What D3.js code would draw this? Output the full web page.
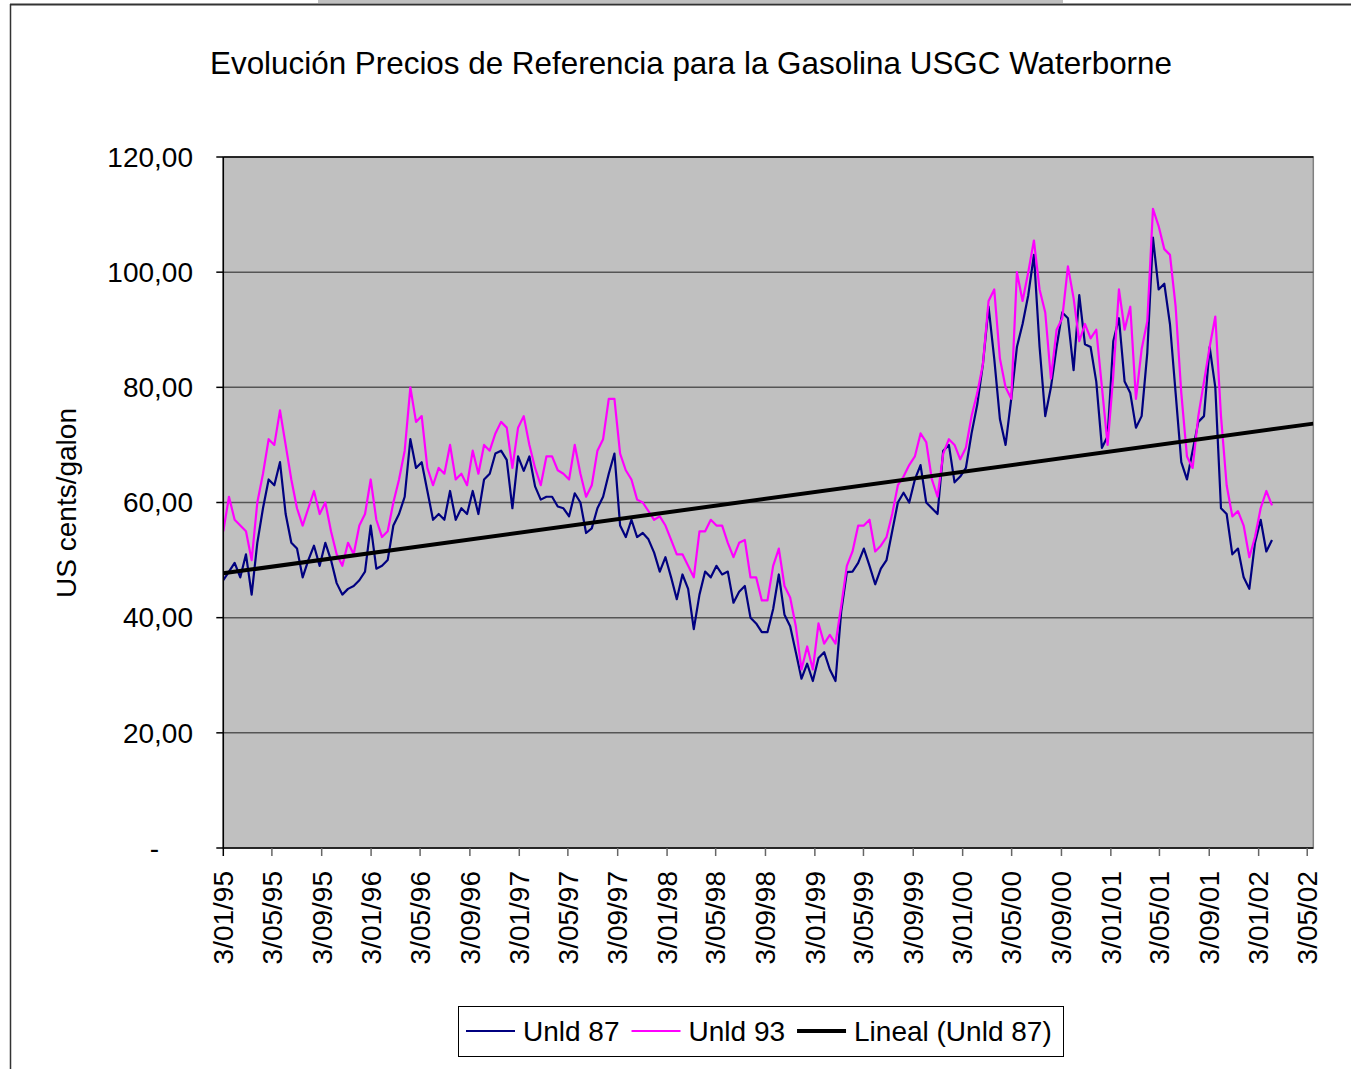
<!DOCTYPE html>
<html>
<head>
<meta charset="utf-8">
<script src="https://cdn.jsdelivr.net/npm/d3@7/dist/d3.min.js"></script>
<style>
  body { margin: 0; background: #fff; }
  text { font-family: "Liberation Sans", Arial, sans-serif; fill: #000; }
</style>
</head>
<body>
<svg id="chart" width="1351" height="1069"></svg>
<script>
// precios cada 14 dias desde 3/01/95 (US cents/galon)
var startDate = new Date(1995, 0, 3);
var stepDays = 14;

var unld87 = [
  46.5, 48, 49.5, 47, 51, 44, 53, 59, 64, 63,
  67, 58, 53, 52, 47, 50, 52.5, 49, 53, 50,
  46, 44, 45, 45.5, 46.5, 48, 56, 48.5, 49, 50,
  56, 58, 61, 71, 66, 67, 62, 57, 58, 57,
  62, 57, 59, 58, 62, 58, 64, 65, 68.5, 69,
  67.4, 59, 68, 65.5, 68, 62.8, 60.5, 61, 61, 59.3,
  59, 57.6, 61.6, 60, 54.7, 55.5, 59, 61, 65, 68.5,
  56, 54, 57, 54, 54.7, 53.6, 51.3, 48, 50.5, 47,
  43.2, 47.5, 45, 38, 44, 48, 47, 49, 47.5, 48,
  42.6, 44.5, 45.5, 40, 39, 37.5, 37.5, 41.5, 47.5, 40.5,
  38.5, 34, 29.4, 32, 29, 33, 34, 31, 29, 41,
  47.9, 48, 49.5, 52, 49, 45.8, 48.5, 50, 55, 60,
  61.7, 60, 64, 66.5, 60, 59, 58, 69, 70, 63.5,
  64.5, 66, 72, 77, 84, 94, 85, 74.5, 70, 78,
  87, 91, 96, 103, 87, 75, 80, 87, 93, 92,
  83, 96, 87.5, 87, 81, 69.5, 71.5, 88, 92, 81,
  79, 73, 75, 86, 106, 97, 98, 91, 79, 67,
  64, 69, 74, 75, 87, 80, 59, 58, 51, 52,
  47, 45, 53, 57, 51.5, 53.5
];

var unld93 = [
  55, 61, 57, 56, 55, 50, 60, 65, 71, 70,
  76, 70, 64, 59, 56, 59, 62, 58, 60, 55,
  51, 49, 53, 51, 56, 58, 64, 57, 54, 55,
  60, 64, 69, 80, 74, 75, 66, 63, 66, 65,
  70, 64, 65, 63, 69, 65, 70, 69, 72, 74,
  73, 66, 73, 75, 70, 66, 63, 68, 68, 65.6,
  65, 64, 70, 65, 61, 63, 69, 71, 78, 78,
  68.5, 65.6, 64, 60.5, 60, 58.5, 57, 57.6, 56, 53.5,
  51, 51, 49, 47, 55, 55, 57, 56, 56, 53,
  50.5, 53, 53.5, 47, 47, 43, 43, 49, 52, 45.5,
  43.5, 38.5, 31, 35, 31, 39, 35.5, 37, 35.5, 42,
  49, 51.5, 56, 56, 57, 51.5, 52.5, 54, 58, 63,
  64.5, 66.5, 68, 72, 70.5, 64, 61, 68.5, 71, 70,
  67.5, 69.5, 75, 79, 84, 95, 97, 85, 80, 78,
  100, 95, 100, 105.5, 97, 93, 81.5, 90, 92, 101,
  95.5, 88, 91, 88.5, 90, 80, 70, 82, 97, 90,
  94, 78, 86.6, 91.5, 111, 108, 104, 103, 94, 79,
  68, 66, 75, 81, 87, 92.3, 75, 63, 57.6, 58.5,
  56, 50.5, 54, 59, 62, 59.5
];

// tendencia lineal (Unld 87), extremos
var trendDates = [new Date(1995, 0, 3), new Date(2002, 4, 18)];
var trendValues = [47.7, 73.7];

var yTicks = [0, 20, 40, 60, 80, 100, 120];
var tickMonths = [0, 4, 8];
var tickYears = [1995, 1996, 1997, 1998, 1999, 2000, 2001, 2002];

var titulo = "Evolución Precios de Referencia para la Gasolina USGC Waterborne";
var yTitulo = "US cents/galon";
var legendNames = ["Unld 87", "Unld 93", "Lineal (Unld 87)"];
var colors = ["#000080", "#ff00ff", "#000000"];

var plot = {left: 223.3, right: 1313.3, top: 157, bottom: 848};

var svg = d3.select("#chart");

// marco exterior
svg.append("rect").attr("x", 318).attr("y", 0).attr("width", 745).attr("height", 3).attr("fill", "#c0c0c0");
svg.append("line").attr("x1", 10).attr("x2", 1351).attr("y1", 4.5).attr("y2", 4.5)
  .attr("stroke", "#333").attr("stroke-width", 2);
svg.append("line").attr("x1", 10.5).attr("x2", 10.5).attr("y1", 4).attr("y2", 1069)
  .attr("stroke", "#333").attr("stroke-width", 1.5);

var x = d3.scaleTime()
  .domain([startDate, trendDates[1]])
  .range([plot.left, plot.right]);
var y = d3.scaleLinear().domain([0, 120]).range([plot.bottom, plot.top]);

var esLocale = d3.formatLocale({decimal: ",", thousands: ".", grouping: [3], currency: ["", ""]});
var fmt = esLocale.format(".2f");

var tickDates = [];
tickYears.forEach(function(yr) {
  tickMonths.forEach(function(m) {
    var d = new Date(yr, m, 3);
    if (d <= new Date(2002, 4, 3)) tickDates.push(d);
  });
});

function toSeries(vals) {
  return vals.map(function(v, i) { return {date: d3.timeDay.offset(startDate, i * stepDays), v: v}; });
}
var s87 = toSeries(unld87), s93 = toSeries(unld93);
var sTrend = trendDates.map(function(d, i) { return {date: d, v: trendValues[i]}; });

// area del grafico
svg.append("rect")
  .attr("x", plot.left).attr("y", plot.top)
  .attr("width", plot.right - plot.left).attr("height", plot.bottom - plot.top)
  .attr("fill", "#c0c0c0").attr("stroke", "#808080").attr("stroke-width", 1.5);

svg.append("clipPath").attr("id", "clip").append("rect")
  .attr("x", plot.left).attr("y", plot.top)
  .attr("width", plot.right - plot.left).attr("height", plot.bottom - plot.top);

svg.append("g").selectAll("line").data(yTicks.filter(function(t) { return t > 0; }))
  .enter().append("line")
  .attr("x1", plot.left).attr("x2", plot.right)
  .attr("y1", function(d) { return y(d); }).attr("y2", function(d) { return y(d); })
  .attr("stroke", function(d) { return d === 120 ? "#000" : "#555"; })
  .attr("stroke-width", 1.5);

var line = d3.line()
  .x(function(d) { return x(d.date); })
  .y(function(d) { return y(d.v); });

var g = svg.append("g").attr("clip-path", "url(#clip)");
g.append("path").datum(s87).attr("d", line)
  .attr("fill", "none").attr("stroke", colors[0]).attr("stroke-width", 2.2).attr("stroke-linejoin", "round");
g.append("path").datum(s93).attr("d", line)
  .attr("fill", "none").attr("stroke", colors[1]).attr("stroke-width", 2.2).attr("stroke-linejoin", "round");
g.append("path").datum(sTrend).attr("d", line)
  .attr("fill", "none").attr("stroke", colors[2]).attr("stroke-width", 4);

// ejes
var yAxis = svg.append("g");
yAxis.append("line").attr("x1", plot.left).attr("x2", plot.left)
  .attr("y1", plot.top).attr("y2", plot.bottom).attr("stroke", "#000").attr("stroke-width", 1.5);
yAxis.selectAll(".tk").data(yTicks).enter().append("line")
  .attr("x1", plot.left - 7).attr("x2", plot.left)
  .attr("y1", function(d) { return y(d); }).attr("y2", function(d) { return y(d); })
  .attr("stroke", "#000").attr("stroke-width", 1.5);
yAxis.selectAll("text").data(yTicks).enter().append("text")
  .attr("x", function(d) { return d === 0 ? 159 : 193; })
  .attr("y", function(d) { return y(d); })
  .attr("dy", "0.35em")
  .attr("text-anchor", "end")
  .attr("font-size", 28)
  .text(function(d) { return d === 0 ? "-" : fmt(d); });

var xAxis = svg.append("g");
xAxis.append("line").attr("x1", plot.left).attr("x2", plot.right)
  .attr("y1", plot.bottom).attr("y2", plot.bottom).attr("stroke", "#000").attr("stroke-width", 1.5);
xAxis.selectAll(".tk").data(tickDates).enter().append("line")
  .attr("x1", function(d) { return x(d); }).attr("x2", function(d) { return x(d); })
  .attr("y1", plot.bottom).attr("y2", plot.bottom + 8)
  .attr("stroke", function(d, i) { return i === 0 ? "#000" : "#666"; }).attr("stroke-width", 1.5);
var fmtDate = d3.timeFormat("%-d/%m/%y");
xAxis.selectAll("text").data(tickDates).enter().append("text")
  .attr("transform", function(d) { return "translate(" + x(d) + "," + (plot.bottom + 23) + ")rotate(-90)"; })
  .attr("dy", "0.35em")
  .attr("text-anchor", "end")
  .attr("font-size", 28)
  .text(function(d) { return fmtDate(d); });

// titulos
svg.append("text").attr("x", 691).attr("y", 74).attr("text-anchor", "middle")
  .attr("font-size", 31.4).text(titulo);
svg.append("text").attr("transform", "translate(76,503)rotate(-90)")
  .attr("text-anchor", "middle").attr("font-size", 28).text(yTitulo);

// leyenda
var leg = svg.append("g");
leg.append("rect").attr("x", 458.5).attr("y", 1006.5).attr("width", 605).attr("height", 50)
  .attr("fill", "#fff").attr("stroke", "#000").attr("stroke-width", 1);
var lx = 466;
legendNames.forEach(function(name, i) {
  leg.append("line").attr("x1", lx).attr("x2", lx + 49).attr("y1", 1031).attr("y2", 1031)
    .attr("stroke", colors[i]).attr("stroke-width", i === 2 ? 4 : 2);
  var t = leg.append("text").attr("x", lx + 57).attr("y", 1031).attr("dy", "0.35em")
    .attr("font-size", 28).text(name);
  lx = lx + 57 + t.node().getComputedTextLength() + 12;
});
</script>
</body>
</html>
